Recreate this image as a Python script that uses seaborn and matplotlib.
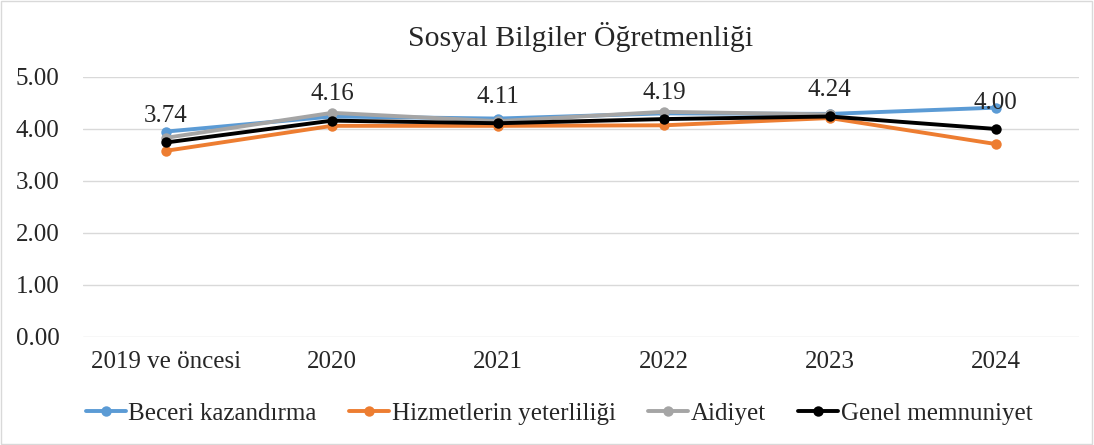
import matplotlib
matplotlib.use("Agg")
import matplotlib.pyplot as plt
import seaborn as sns
import pandas as pd
import numpy as np

years = ["2019 ve öncesi", "2020", "2021", "2022", "2023", "2024"]
beceri = [3.95, 4.24, 4.20, 4.30, 4.29, 4.41]
hizmet = [3.58, 4.06, 4.06, 4.07, 4.21, 3.71]
aidiyet = [3.83, 4.31, 4.15, 4.33, 4.28, np.nan]
genel = [3.74, 4.16, 4.11, 4.19, 4.24, 4.00]

series_names = ["Beceri kazandırma", "Hizmetlerin yeterliliği", "Aidiyet", "Genel memnuniyet"]
colors = ["#5B9BD5", "#ED7D31", "#A5A5A5", "#000000"]

rows = []
for name, vals in zip(series_names, [beceri, hizmet, aidiyet, genel]):
    for y, v in zip(years, vals):
        rows.append({"Yıl": y, "Puan": v, "Seri": name})
df = pd.DataFrame(rows)

sns.set_style("white")
plt.rcParams["font.family"] = ["Liberation Serif", "DejaVu Serif"]

fig, ax = plt.subplots(figsize=(10.94, 4.45), dpi=100)
fig.subplots_adjust(left=0.076, right=0.986, top=0.827, bottom=0.243)

sns.lineplot(data=df, x="Yıl", y="Puan", hue="Seri", palette=colors,
             marker="o", markersize=7.5, markeredgewidth=0, linewidth=2.8,
             sort=False, ax=ax)

# data labels for genel memnuniyet
for i, v in enumerate(genel):
    ax.annotate(f"{v:.2f}", (i, v), xytext=(0, 19), textcoords="offset points",
                ha="center", va="center", fontsize=18)

ax.set_ylim(0, 5)
ax.set_xlim(-0.5, len(years) - 0.5)
ax.set_yticks(np.arange(0, 5.01, 1))
ax.set_yticklabels([f"{t:.2f}" for t in np.arange(0, 5.01, 1)])
ax.yaxis.grid(True, color="#D9D9D9", linewidth=1)
ax.set_axisbelow(True)
for s in ax.spines.values():
    s.set_visible(False)
ax.tick_params(axis="both", labelsize=18, length=0)
ax.tick_params(axis="x", pad=10)
ax.tick_params(axis="y", pad=17)
ax.set_xlabel("")
ax.set_ylabel("")

ax.set_title("Sosyal Bilgiler Öğretmenliği", fontsize=21.5, pad=22)

handles, labels = ax.get_legend_handles_labels()
ax.legend(handles, labels, loc="center", bbox_to_anchor=(0.478, -0.295),
          ncol=4, frameon=False, fontsize=18, handlelength=1.6,
          handletextpad=0.1, columnspacing=1.3)

fig.patches.append(plt.Rectangle((0.001, 0.002), 0.997, 0.995, transform=fig.transFigure,
                                 fill=False, edgecolor="#D9D9D9", linewidth=1))

fig.savefig("out.png", dpi=100)
